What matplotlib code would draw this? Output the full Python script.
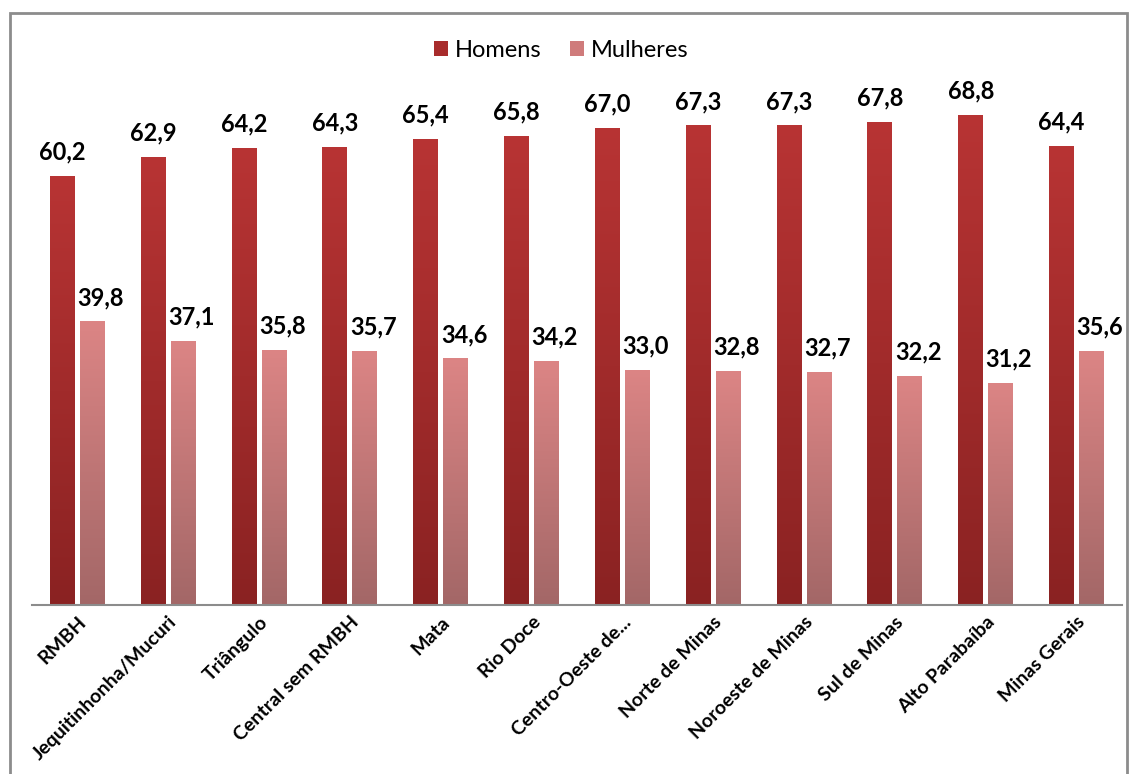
import numpy as np
import matplotlib
matplotlib.use("Agg")
import matplotlib.pyplot as plt
from matplotlib.colors import LinearSegmentedColormap
from matplotlib.patches import Rectangle, Patch

plt.rcParams['font.family'] = ['Lato', 'DejaVu Sans']

regioes = ["RMBH", "Jequitinhonha/Mucuri", "Triângulo", "Central sem RMBH", "Mata",
           "Rio Doce", "Centro-Oeste de...", "Norte de Minas", "Noroeste de Minas",
           "Sul de Minas", "Alto Parabaíba", "Minas Gerais"]
homens = [60.2, 62.9, 64.2, 64.3, 65.4, 65.8, 67.0, 67.3, 67.3, 67.8, 68.8, 64.4]
mulheres = [39.8, 37.1, 35.8, 35.7, 34.6, 34.2, 33.0, 32.8, 32.7, 32.2, 31.2, 35.6]

fig = plt.figure(figsize=(11.34, 7.74), dpi=100)
ax = fig.add_axes([0.0282, 0.2183, 0.9612, 0.7365])

x = np.arange(len(regioes))
w = 0.275
off = 0.165

cmap_h = LinearSegmentedColormap.from_list("h", ["#8a2222", "#b83434"])
cmap_m = LinearSegmentedColormap.from_list("m", ["#a36767", "#dc8585"])


def gradient_bars(xs, vals, cmap):
    bars = ax.bar(xs, vals, width=w, color="none", edgecolor="none", zorder=2)
    grad = np.linspace(0, 1, 256).reshape(-1, 1)
    for b in bars:
        bx, by = b.get_x(), b.get_y()
        bw, bh = b.get_width(), b.get_height()
        im = ax.imshow(grad, cmap=cmap, origin="lower", aspect="auto",
                       extent=[bx, bx + bw, by, by + bh], zorder=2)
        im.set_clip_path(b)
    return bars


gradient_bars(x - off, homens, cmap_h)
gradient_bars(x + off, mulheres, cmap_m)

for xi, v in zip(x - off, homens):
    ax.annotate(f"{v:.1f}".replace(".", ","), (xi, v), xytext=(0, 9),
                textcoords="offset points", ha="center", va="bottom",
                fontsize=17, fontweight="bold")
for xi, v in zip(x + off, mulheres):
    ax.annotate(f"{v:.1f}".replace(".", ","), (xi, v), xytext=(6, 9),
                textcoords="offset points", ha="center", va="bottom",
                fontsize=17, fontweight="bold")

ax.set_xlim(-0.5, len(regioes) - 0.5)
ax.set_ylim(0, 80)
ax.set_yticks([])
ax.set_xticks(x)
ax.set_xticklabels(regioes, rotation=45, ha="right", rotation_mode="anchor",
                   fontsize=14, fontweight="bold")
ax.tick_params(axis="x", length=0, pad=6)
for s in ["top", "right", "left"]:
    ax.spines[s].set_visible(False)
ax.spines["bottom"].set_color("#8c8c8c")
ax.spines["bottom"].set_linewidth(1.5)

handles = [Patch(facecolor="#a82c2c", label="Homens"),
           Patch(facecolor="#cf7b7b", label="Mulheres")]
fig.legend(handles=handles, loc="center", bbox_to_anchor=(0.495, 0.935), ncol=2,
           frameon=False, fontsize=17, handlelength=0.6, handleheight=0.6,
           handletextpad=0.3, columnspacing=1.2)

fig.patches.append(Rectangle((10 / 1134, -0.01), 1117 / 1134, 0.993,
                             transform=fig.transFigure, fill=False,
                             edgecolor="#8c8c8c", linewidth=2))

fig.savefig("out.png", dpi=100, facecolor="white")
